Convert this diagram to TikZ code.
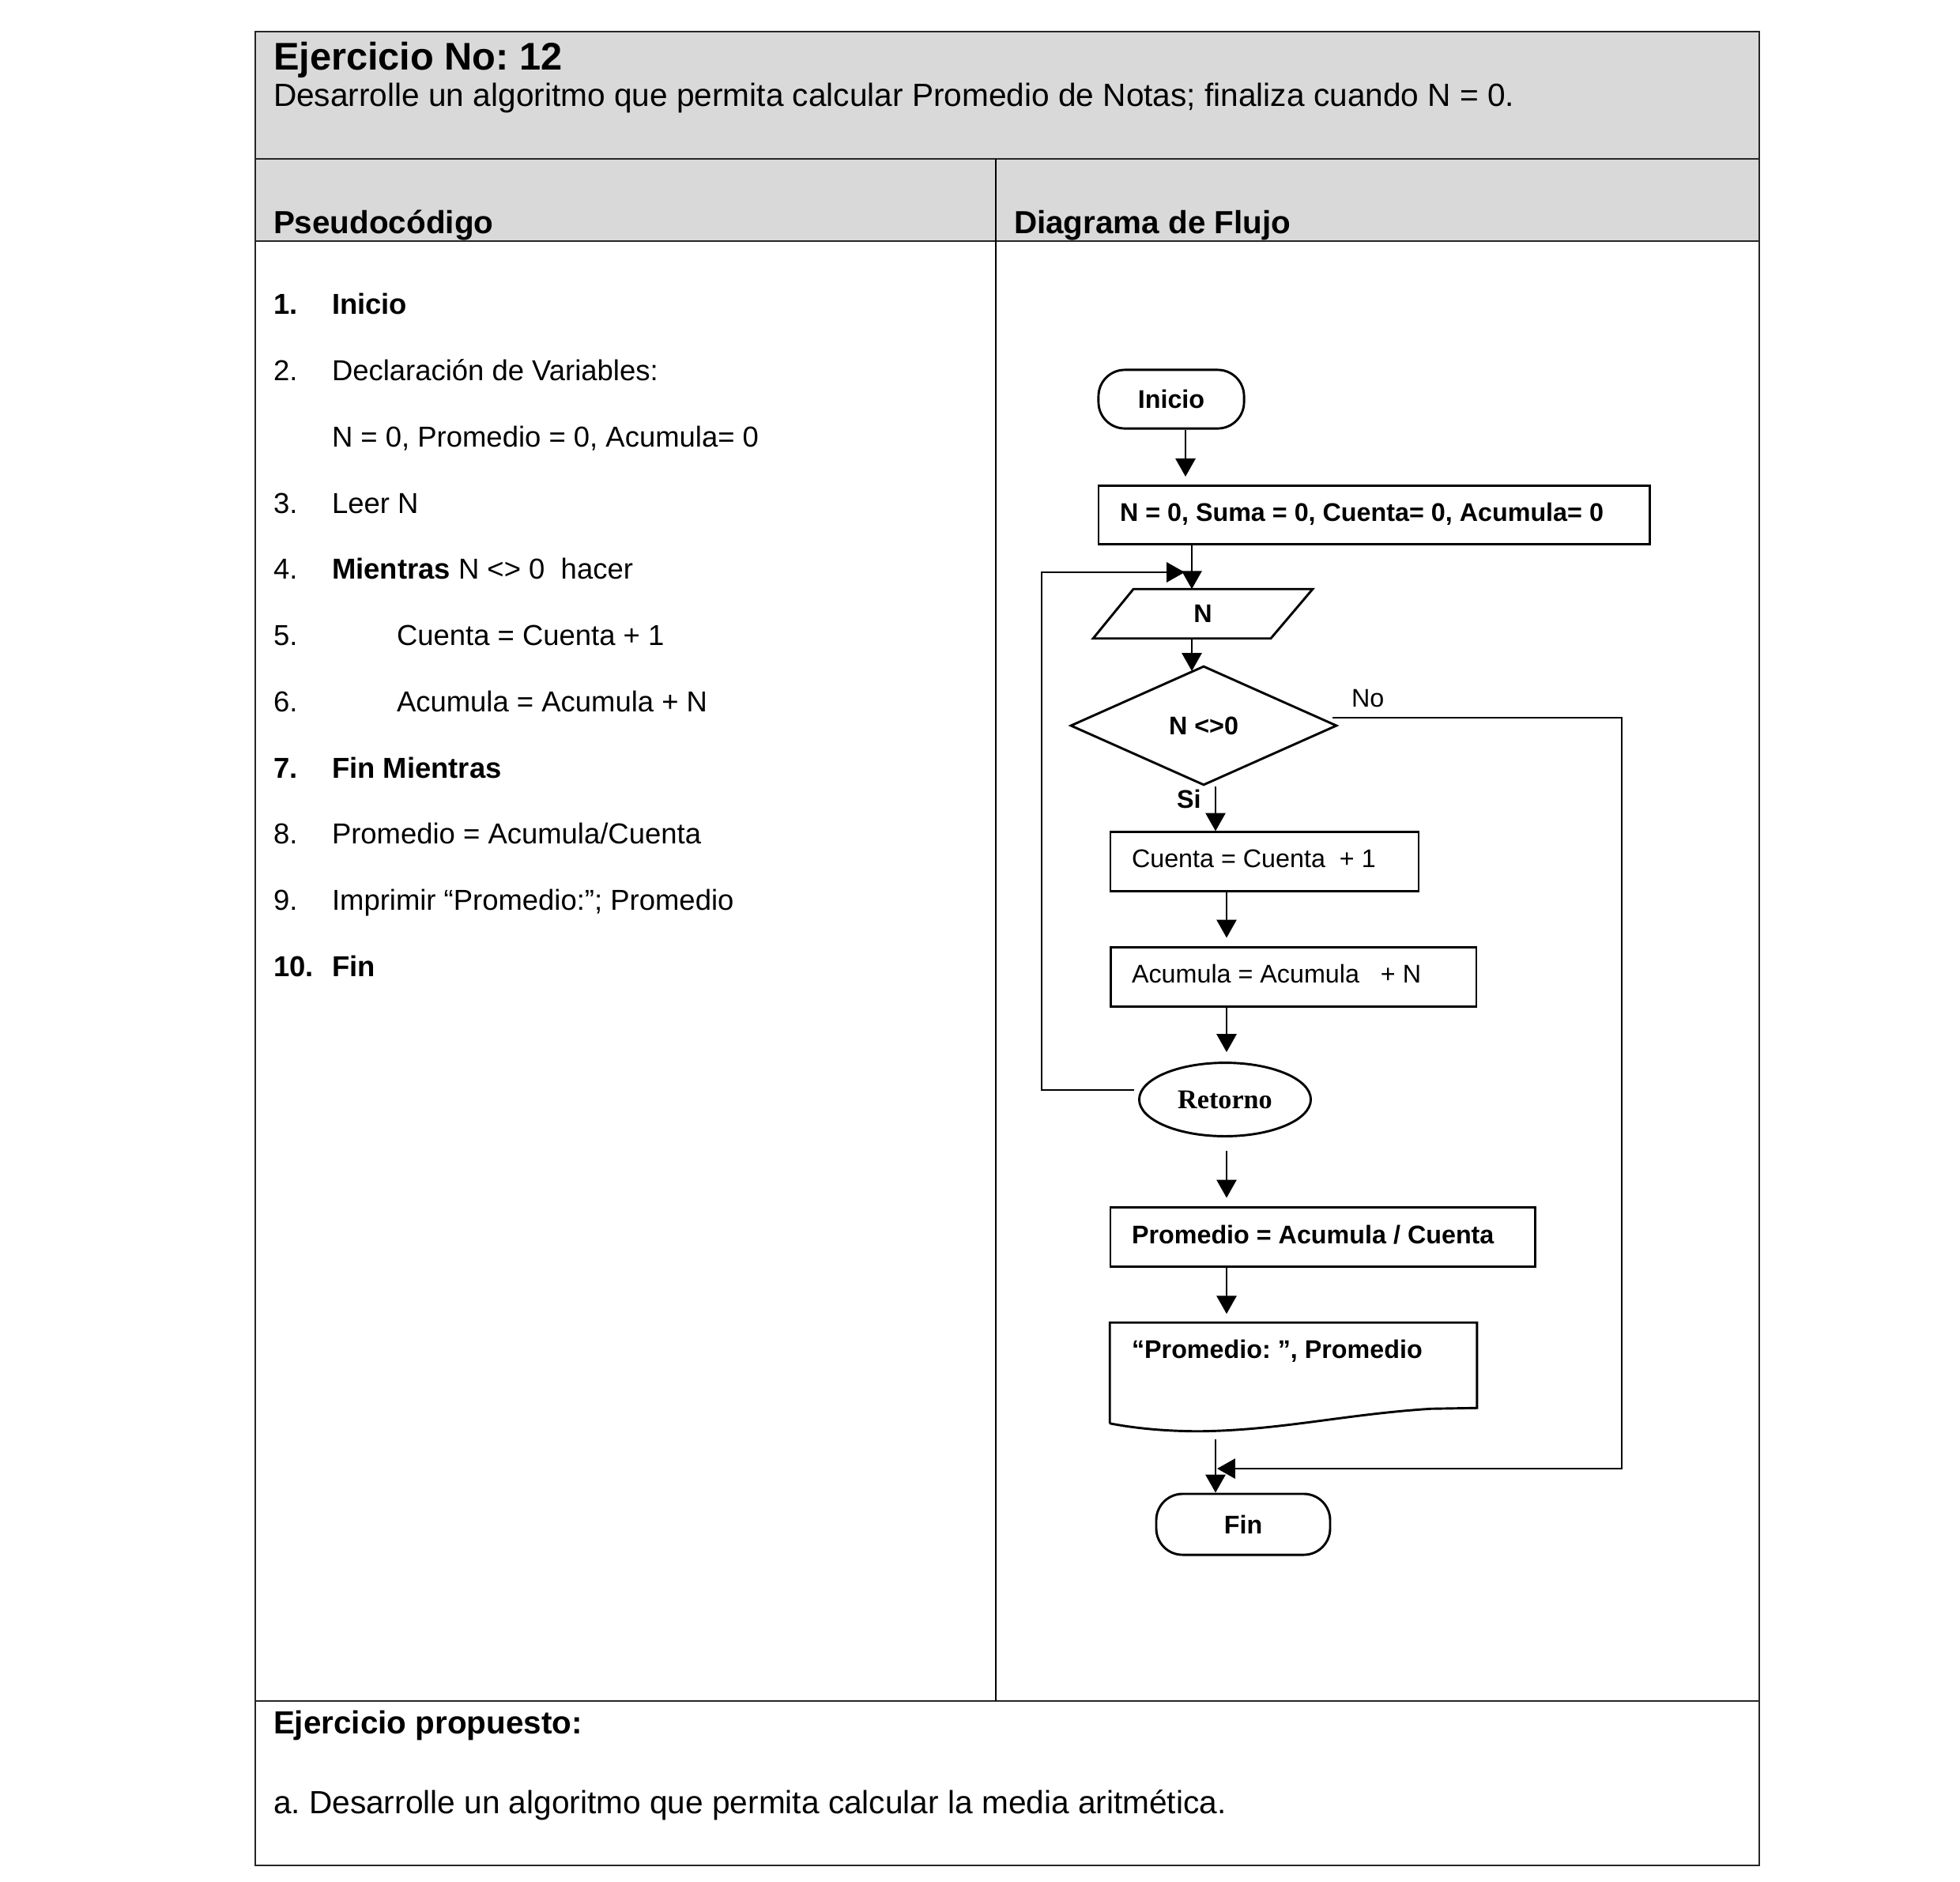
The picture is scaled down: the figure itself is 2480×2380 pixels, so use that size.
\documentclass[tikz,border=0pt]{standalone}
\usepackage{fontspec}
\setmainfont{Liberation Sans}
\newfontfamily\timesfont{Liberation Serif}
\usetikzlibrary{arrows.meta,shapes.geometric,calc}
\definecolor{headgray}{RGB}{217,217,217}
\frenchspacing

\newcommand{\fsz}[1]{\fontsize{#1pt}{#1pt}\selectfont}

\begin{document}
\begin{tikzpicture}[x=0.24pt,y=-0.24pt,
  tline/.style={line width=0.6pt,draw=black!85},
  lbl/.style={inner sep=0pt,outer sep=0pt,anchor=base west},
  titlefont/.style={font=\fsz{9.75}},
  headfont/.style={font=\bfseries\fsz{9.7}},
  pcode/.style={lbl,font=\fsz{8.75}},
  pbold/.style={lbl,font=\bfseries\fsz{8.75}},
  fline/.style={line width=0.7pt},
  term/.style={draw,fline,rounded corners=8pt,minimum width=44.2pt,minimum height=17.8pt,inner sep=0pt,font=\bfseries\fsz{7.75}},
  procbox/.style={draw,fline,minimum height=17.8pt,inner sep=0pt},
  ftext/.style={lbl,font=\fsz{7.75}},
  fbold/.style={lbl,font=\bfseries\fsz{7.75}},
  arr/.style={fline,-{Triangle[length=5.5pt,width=6pt]}}
]
\useasboundingbox (0,0) rectangle (2480,2380);
\fill[white] (0,0) rectangle (2480,2380);

% ---------- table frame ----------
\fill[headgray] (323,40) rectangle (2226,305);
\draw[tline] (323,40) rectangle (2226,2360);
\draw[tline] (323,201) -- (2226,201);
\draw[tline] (323,305) -- (2226,305);
\draw[tline] (323,2152) -- (2226,2152);
\draw[line width=0.45pt] (1260,201) -- (1260,2152);

% ---------- header texts ----------
\node[lbl,font=\bfseries\fsz{11.7}] (ttl) at (346,88) {Ejercicio No: 12};
\node[lbl,titlefont] (enun) at (346,134) {Desarrolle un algoritmo que permita calcular Promedio de Notas; finaliza cuando N = 0.};
\node[lbl,headfont] (hpc) at (346,295) {Pseudocódigo};
\node[lbl,headfont] (hdf) at (1283,295) {Diagrama de Flujo};

% ---------- pseudocode ----------
\node[pbold] (n1) at (346,397) {1.};
\node[pbold] (t1) at (420,397) {Inicio};
\node[pcode] (n2) at (346,481) {2.};
\node[pcode] (t2) at (420,481) {Declaración de Variables:};
\node[pcode] (t2b) at (420,565) {N = 0, Promedio = 0, Acumula= 0};
\node[pcode] (n3) at (346,649) {3.};
\node[pcode] (t3) at (420,649) {Leer N};
\node[pcode] (n4) at (346,732) {4.};
\node[pcode] (t4) at (420,732) {\textbf{Mientras} N <> 0\ \ hacer};
\node[pcode] (n5) at (346,816) {5.};
\node[pcode] (t5) at (502,816) {Cuenta = Cuenta + 1};
\node[pcode] (n6) at (346,900) {6.};
\node[pcode] (t6) at (502,900) {Acumula = Acumula + N};
\node[pbold] (n7) at (346,984) {7.};
\node[pbold] (t7) at (420,984) {Fin Mientras};
\node[pcode] (n8) at (346,1067) {8.};
\node[pcode] (t8) at (420,1067) {Promedio = Acumula/Cuenta};
\node[pcode] (n9) at (346,1151) {9.};
\node[pcode] (t9) at (420,1151) {Imprimir “Promedio:”; Promedio};
\node[pbold] (n10) at (346,1235) {10.};
\node[pbold] (t10) at (420,1235) {Fin};

% ---------- flowchart shapes ----------
\node[term] (ini) at (1482,505) {Inicio};
\node[procbox,minimum width=167.3pt] (init) at (1738.5,651.5) {};
\node[fbold] (initt) at (1417,659) {N = 0, Suma = 0, Cuenta= 0, Acumula= 0};

\node[inner sep=0pt,minimum width=53.8pt,minimum height=14.6pt,font=\bfseries\fsz{7.75}] (rd) at (1522,776.5) {N};
\draw[fline] ($(rd.north west)+(25,0)$) -- ($(rd.north east)+(26,0)$)
  -- ($(rd.south east)+(-27,0)$) -- ($(rd.south west)+(-26,0)$) -- cycle;

\node[draw,fline,diamond,minimum width=80.9pt,minimum height=36.2pt,inner sep=0pt,
  font=\bfseries\fsz{7.75}] (dec) at (1523,918) {N <>0};
\node[ftext] (nol) at (1710,894) {No};
\node[fbold] (sil) at (1489,1022) {Si};

\node[procbox,minimum width=93.6pt] (cta) at (1600,1090) {};
\node[ftext] (ctat) at (1432,1097) {Cuenta = Cuenta\ \ + 1};
\node[procbox,minimum width=111.1pt] (acu) at (1636.5,1236) {};
\node[ftext] (acut) at (1432,1243) {Acumula = Acumula\ \ \ + N};

\node[draw,fline,ellipse,minimum width=52.1pt,minimum height=22.3pt,inner sep=0pt,
  font=\timesfont\bfseries\fsz{8.2}] (ret) at (1550,1391) {Retorno};

\node[procbox,minimum width=128.9pt] (prm) at (1673.5,1565) {};
\node[fbold] (prmt) at (1432,1573) {Promedio = Acumula / Cuenta};

\node[inner sep=0pt,minimum width=111.1pt,minimum height=30.2pt] (doc) at (1636.5,1737) {};
\draw[fline] (doc.south west) -- (doc.north west) -- (doc.north east)
  -- ($(doc.north east)+(0,108)$) -- ($(doc.north east)+(-58,109)$)
  .. controls ($(doc.north east)+(-168,116)$) and ($(doc.south west)+(215,9)$) .. ($(doc.south west)+(113,10)$)
  .. controls ($(doc.south west)+(65,10)$) and ($(doc.south west)+(25,5)$) .. (doc.south west);
\node[fbold] (doct) at (1432,1718) {“Promedio: ”, Promedio};

\node[term,minimum width=52.8pt,minimum height=18.5pt] (fin) at (1573,1928.5) {Fin};

% ---------- connectors ----------
\coordinate (xa) at (1500,603);
\coordinate (xb) at (1508,0);
\coordinate (xc) at (1508,849);
\coordinate (xd) at (1538,0);
\coordinate (xe) at (1552,0);
\coordinate (lpL) at (1318,1379);
\coordinate (lpT) at (1499,724);
\coordinate (nR) at (2052,908);
\coordinate (nB) at (1540,1858);

\draw[arr] (ini.south -| xa) -- (xa);
\draw[arr] (init.south -| xb) -- (rd.north -| xb);
\draw[arr] ($(ret.west)+(-5,-12)$) -- (lpL) |- (lpT);
\draw[arr] (rd.south -| xc) -- (xc);
\draw[arr] (dec.south -| xd) -- (cta.north -| xd);
\draw[arr] (cta.south -| xe) -- ($(acu.north -| xe)+(0,-11)$);
\draw[arr] (acu.south -| xe) -- ($(ret.north -| xe)+(0,-12)$);
\draw[arr] ($(ret.south -| xe)+(0,17)$) -- ($(prm.north -| xe)+(0,-11)$);
\draw[arr] (prm.south -| xe) -- ($(doc.north -| xe)+(0,-11)$);
\draw[arr] ($(doc.south -| xd)+(0,20)$) -- (fin.north -| xd);
\draw[arr] ($(dec.east)+(-7,-10)$) -- (nR) |- (nB);

% ---------- proposed exercise ----------
\node[lbl,headfont] (prop) at (346,2193) {Ejercicio propuesto:};
\node[lbl,titlefont] (propa) at (346,2294) {a. Desarrolle un algoritmo que permita calcular la media aritmética.};
\end{tikzpicture}
\end{document}
